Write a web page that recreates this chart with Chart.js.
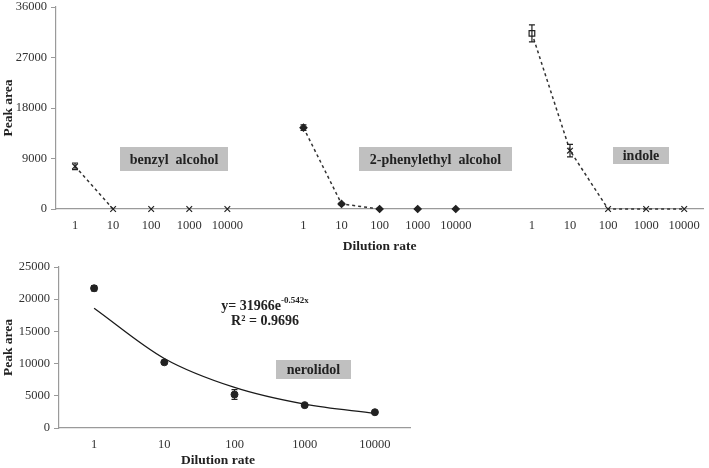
<!DOCTYPE html>
<html>
<head>
<meta charset="utf-8">
<script src="https://cdn.jsdelivr.net/npm/chart.js@4.4.1/dist/chart.umd.min.js"></script>
<style>
  html, body { margin: 0; padding: 0; background: #fff; }
  #wrap { position: relative; width: 709px; height: 468px; }
  canvas { position: absolute; left: 0; }
  #topChart { top: 0; }
  #bottomChart { top: 255px; }
</style>
</head>
<body>
<div id="wrap">
  <canvas id="topChart" width="709" height="255"></canvas>
  <canvas id="bottomChart" width="430" height="213"></canvas>
</div>
<script>
// dilution steps, repeated for the three compounds in the upper panel
const dilutions = ['1', '10', '100', '1000', '10000'];
const topLabels = [...dilutions, '', ...dilutions, '', ...dilutions];

const benzylAlcohol = [7600, 0, 0, 0, 0];
const benzylAlcoholErr = [600, 0, 0, 0, 0];
const phenylethylAlcohol = [14500, 900, 0, 0, 0];
const phenylethylAlcoholErr = [500, 150, 0, 0, 0];
const indole = [31300, 10400, 0, 0, 0];
const indoleErr = [1500, 1100, 0, 0, 0];

const nerolidol = [21700, 10200, 5200, 3550, 2450];
const nerolidolErr = [400, 250, 750, 200, 150];
const nerolidolTrend = [18600, 10800, 6300, 3700, 2250]; // fitted curve

const FONT = '"Liberation Serif", "Times New Roman", serif';
const INK = '#222';
const AXIS = '#9a9a9a';
const BOX = '#c0c0c0';

Chart.defaults.font.family = FONT;
Chart.defaults.color = '#333';

// put a group of 5 values into its slot of the 17 category axis
function place(values, group, fill) {
    const out = new Array(topLabels.length).fill(fill === undefined ? null : fill);
    values.forEach((v, i) => { out[group * 6 + i] = v; });
    return out;
}

const errorBars = {
    id: 'errorBars',
    afterDatasetsDraw(chart) {
        const ctx = chart.ctx;
        const y = chart.scales.y;
        chart.data.datasets.forEach((ds, i) => {
            if (!ds.errors) return;
            const meta = chart.getDatasetMeta(i);
            ctx.save();
            ctx.strokeStyle = INK;
            ctx.lineWidth = 1.2;
            meta.data.forEach((pt, j) => {
                const v = ds.data[j];
                const e = ds.errors[j];
                if (v == null || !e) return;
                const top = y.getPixelForValue(v + e);
                const bot = y.getPixelForValue(Math.max(v - e, 0));
                ctx.beginPath();
                ctx.moveTo(pt.x, top); ctx.lineTo(pt.x, bot);
                ctx.moveTo(pt.x - 3, top); ctx.lineTo(pt.x + 3, top);
                ctx.moveTo(pt.x - 3, bot); ctx.lineTo(pt.x + 3, bot);
                ctx.stroke();
            });
            ctx.restore();
        });
    }
};

// grey label boxes and free text
const labelBoxes = {
    id: 'labelBoxes',
    afterDraw(chart, args, opts) {
        const ctx = chart.ctx;
        ctx.save();
        (opts.boxes || []).forEach(b => {
            ctx.fillStyle = BOX;
            ctx.fillRect(b.x, b.y, b.w, b.h);
            ctx.fillStyle = INK;
            ctx.font = 'bold 14px ' + FONT;
            ctx.textAlign = 'center';
            ctx.textBaseline = 'middle';
            ctx.fillText(b.text, b.x + b.w / 2, b.y + b.h / 2 + 1);
        });
        (opts.texts || []).forEach(t => {
            ctx.fillStyle = INK;
            ctx.font = 'bold ' + (t.size || 13.5) + 'px ' + FONT;
            ctx.textBaseline = 'middle';
            if (t.sup) {
                const mainW = ctx.measureText(t.text).width;
                ctx.font = 'bold 9px ' + FONT;
                const supW = ctx.measureText(t.sup).width;
                const x0 = t.x - (mainW + supW) / 2;
                ctx.textAlign = 'left';
                ctx.fillText(t.sup, x0 + mainW, t.y - 5);
                ctx.font = 'bold ' + (t.size || 13.5) + 'px ' + FONT;
                ctx.fillText(t.text, x0, t.y);
            } else {
                ctx.textAlign = 'center';
                ctx.fillText(t.text, t.x, t.y);
            }
        });
        ctx.restore();
    }
};

const dashed = {
    borderColor: '#333',
    borderWidth: 1.5,
    borderDash: [3, 3],
    pointBorderColor: INK,
    pointBorderWidth: 1.2,
    pointRadius: 4,
    clip: false,
    spanGaps: false
};

const plainNumber = v => String(v);

// fixed axis width, and no extra room for the end tick labels
function fixWidth(w) {
    return s => { s.width = w; s.paddingTop = 0; s.paddingBottom = 0; };
}

new Chart(document.getElementById('topChart'), {
    type: 'line',
    data: {
        labels: topLabels,
        datasets: [
            Object.assign({}, dashed, {
                label: 'benzyl alcohol',
                data: place(benzylAlcohol, 0),
                errors: place(benzylAlcoholErr, 0),
                pointStyle: 'crossRot',
                pointBackgroundColor: INK,
                segment: { borderColor: c => c.p0DataIndex >= 1 ? 'rgba(0,0,0,0)' : '#333' }
            }),
            Object.assign({}, dashed, {
                label: '2-phenylethyl alcohol',
                data: place(phenylethylAlcohol, 1),
                errors: place(phenylethylAlcoholErr, 1),
                pointStyle: 'rectRot',
                pointRadius: 3.5,
                pointBackgroundColor: INK,
                segment: { borderColor: c => c.p0DataIndex >= 8 ? 'rgba(0,0,0,0)' : '#333' }
            }),
            Object.assign({}, dashed, {
                label: 'indole',
                data: place(indole, 2),
                errors: place(indoleErr, 2),
                pointStyle: place(['rect', 'crossRot', 'crossRot', 'crossRot', 'crossRot'], 2, 'circle'),
                pointBackgroundColor: '#fff'
            })
        ]
    },
    options: {
        responsive: false,
        animation: false,
        layout: { padding: { top: 7, right: 3, left: 0, bottom: 0 } },
        plugins: {
            legend: { display: false },
            tooltip: { enabled: false },
            labelBoxes: {
                boxes: [
                    { text: 'benzyl  alcohol', x: 120, y: 147, w: 108, h: 24 },
                    { text: '2-phenylethyl  alcohol', x: 359, y: 147, w: 153, h: 24 },
                    { text: 'indole', x: 613, y: 147, w: 56, h: 17 }
                ]
            }
        },
        scales: {
            x: {
                offset: true,
                afterFit: s => { s.height = 46; },
                grid: { drawOnChartArea: false, drawTicks: false },
                border: { color: AXIS, width: 1.2 },
                ticks: { padding: 9, autoSkip: false, maxRotation: 0, font: { size: 12.5 } },
                title: { display: true, text: 'Dilution rate', padding: 0, color: INK, font: { size: 13.5, weight: 'bold' } }
            },
            y: {
                min: 0,
                max: 36000,
                afterFit: fixWidth(56),
                ticks: { stepSize: 9000, padding: 4, callback: plainNumber, font: { size: 12.5, lineHeight: 1 } },
                grid: { drawOnChartArea: false, tickLength: 5, color: AXIS },
                border: { color: AXIS, width: 1.2 },
                title: { display: true, text: 'Peak area', padding: 0, color: INK, font: { size: 13.5, weight: 'bold' } }
            }
        }
    },
    plugins: [errorBars, labelBoxes]
});

new Chart(document.getElementById('bottomChart'), {
    type: 'line',
    data: {
        labels: dilutions,
        datasets: [
            {
                label: 'nerolidol',
                data: nerolidol,
                errors: nerolidolErr,
                showLine: false,
                pointStyle: 'circle',
                pointRadius: 3.5,
                pointBackgroundColor: INK,
                pointBorderColor: INK,
                clip: false
            },
            {
                label: 'trend',
                data: nerolidolTrend,
                borderColor: '#1a1a1a',
                borderWidth: 1.3,
                pointRadius: 0,
                cubicInterpolationMode: 'monotone',
                clip: false
            }
        ]
    },
    options: {
        responsive: false,
        animation: false,
        layout: { padding: { top: 12, right: 20, left: 0, bottom: 0 } },
        plugins: {
            legend: { display: false },
            tooltip: { enabled: false },
            labelBoxes: {
                boxes: [
                    { text: 'nerolidol', x: 276, y: 105, w: 75, h: 19 }
                ],
                texts: [
                    { text: 'y= 31966e', sup: '-0.542x', x: 265, y: 51, size: 14 },
                    { text: 'R\u00b2 = 0.9696', x: 265, y: 66, size: 14 },
                    { text: 'Dilution rate', x: 218, y: 206, size: 13.5 }
                ]
            }
        },
        scales: {
            x: {
                offset: true,
                afterFit: s => { s.height = 40; },
                grid: { drawOnChartArea: false, drawTicks: false },
                border: { color: AXIS, width: 1.2 },
                ticks: { padding: 9, maxRotation: 0, font: { size: 12.5 } }
            },
            y: {
                min: 0,
                max: 25000,
                afterFit: fixWidth(59),
                ticks: { stepSize: 5000, padding: 4, callback: plainNumber, font: { size: 12.5, lineHeight: 1 } },
                grid: { drawOnChartArea: false, tickLength: 5, color: AXIS },
                border: { color: AXIS, width: 1.2 },
                title: { display: true, text: 'Peak area', padding: 0, color: INK, font: { size: 13.5, weight: 'bold' } }
            }
        }
    },
    plugins: [errorBars, labelBoxes]
});
</script>
</body>
</html>
